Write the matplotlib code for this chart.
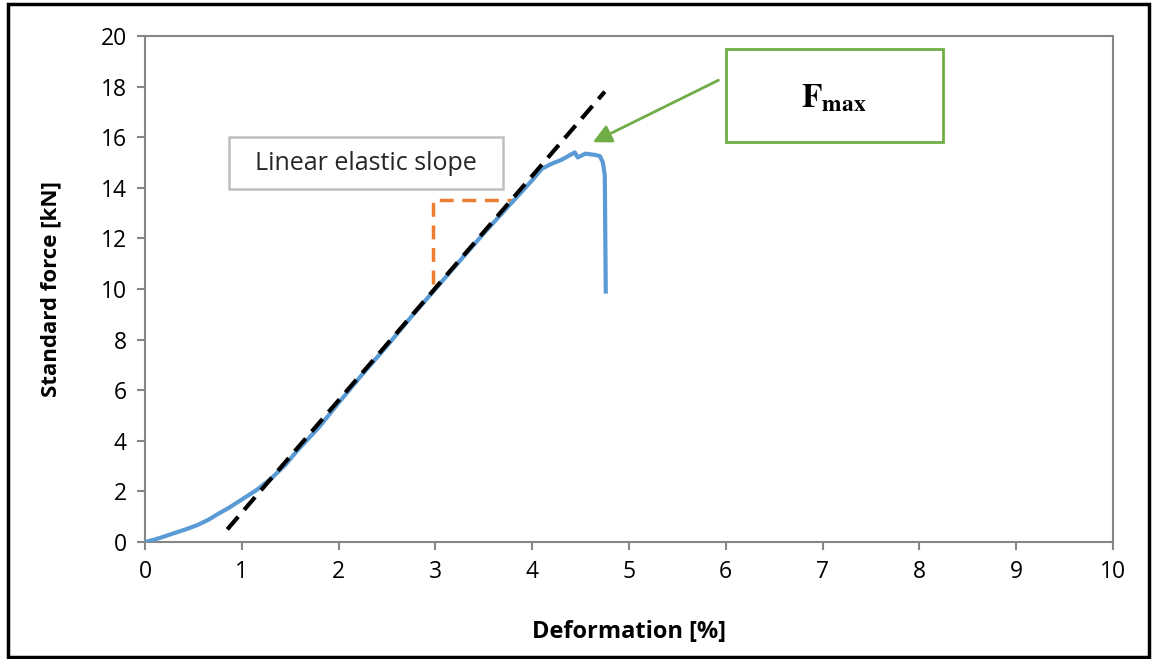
import numpy as np
import matplotlib.pyplot as plt
from matplotlib.patches import Rectangle

# 读取的数据 (从图中估计)
deformation = [0.0, 0.1, 0.2, 0.3, 0.42, 0.54, 0.65, 0.75, 0.87, 1.0, 1.15, 1.3, 1.45,
               1.57, 1.8, 2.0, 2.25, 2.5, 2.75, 3.0, 3.25, 3.5, 3.75, 4.0, 4.1, 4.2,
               4.3, 4.44, 4.47, 4.55, 4.65, 4.70, 4.73, 4.75, 4.76]
force = [0.0, 0.1, 0.22, 0.35, 0.5, 0.67, 0.87, 1.1, 1.36, 1.68, 2.05, 2.5, 3.05,
         3.6, 4.55, 5.5, 6.65, 7.75, 8.9, 10.0, 11.1, 12.2, 13.25, 14.3, 14.75,
         14.95, 15.1, 15.4, 15.2, 15.35, 15.3, 15.25, 15.0, 14.5, 9.9]

slope_x = [0.85, 4.75]
slope_y = [0.5, 17.8]

tri_x = [2.97, 2.97, 3.8]
tri_y = [10.2, 13.5, 13.5]

xticks = np.arange(0, 11, 1)
yticks = np.arange(0, 21, 2)

fig = plt.figure(figsize=(11.52, 6.59), dpi=100)
ax = fig.add_axes([0.1259, 0.1775, 0.8402, 0.7679])

font = 'Open Sans'
gray = '#868686'

ax.plot(deformation, force, color='#5B9BD5', lw=3, solid_joinstyle='round', zorder=3)
ax.plot(slope_x, slope_y, color='black', lw=3, dashes=(4, 2.2), zorder=4)
ax.plot(tri_x, tri_y, color='#ED7D31', lw=2.5, dashes=(4, 2.5), zorder=2)

ax.set_xlim(0, 10)
ax.set_ylim(0, 20)
ax.set_xticks(xticks)
ax.set_yticks(yticks)
ax.tick_params(direction='out', length=6, width=1.5, color=gray, labelsize=16.5, pad=7)
for lab in ax.get_xticklabels() + ax.get_yticklabels():
    lab.set_family(font)
for s in ax.spines.values():
    s.set_color(gray)
    s.set_linewidth(1.5)

ax.set_xlabel('Deformation [%]', fontsize=17, fontweight='bold', family=font, labelpad=26)
ax.set_ylabel('Standard force [kN]', fontsize=16, fontweight='bold', family=font, labelpad=28)

# 文本框
ax.add_patch(Rectangle((0.87, 13.95), 2.83, 2.05, fill=False, edgecolor='#BFBFBF', lw=1.8, zorder=5))
ax.text(2.28, 14.97, 'Linear elastic slope', fontsize=18, family=font, ha='center', va='center', color='#262626')

ax.add_patch(Rectangle((6.0, 15.8), 2.24, 3.7, fill=False, edgecolor='#70AD47', lw=2, zorder=5, clip_on=False))
ax.text(7.12, 17.55, r'$\mathbf{F}_{\mathbf{max}}$', fontsize=24, ha='center', va='center',
        math_fontfamily='stix')
ax.annotate('', xy=(4.6, 15.75), xytext=(5.95, 18.3),
            arrowprops=dict(arrowstyle='-|>', color='#70AD47', lw=2, mutation_scale=28))

# 外框
fig.patches.append(Rectangle((0.007, 0.003), 0.990, 0.991, transform=fig.transFigure,
                             fill=False, edgecolor='black', lw=2.5))

fig.savefig('out.png', dpi=100)
